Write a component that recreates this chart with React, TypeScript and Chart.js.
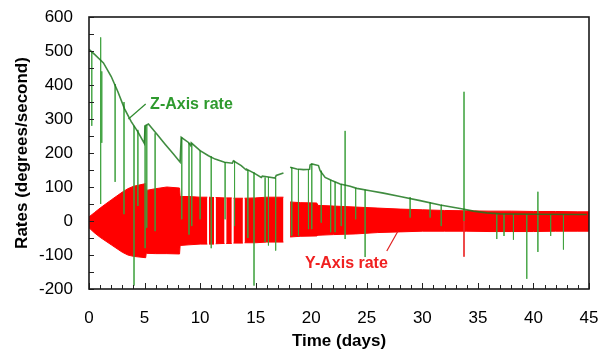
import React, { useEffect, useRef } from "react";
import { Chart, registerables } from "chart.js";

Chart.register(...registerables);

// ---------- Axis settings ----------
const xMin = 0;
const xMax = 45;
const xStep = 5;
const yMin = -200;
const yMax = 600;
const yStep = 100;
const xTitle = "Time (days)";
const yTitle = "Rates (degrees/second)";
const zLabel = "Z-Axis rate";
const yLabel = "Y-Axis rate";

// ---------- Z-Axis rate: main curve (day, deg/s); null = break ----------
const zDays = [
  0, 0.5, 1.3, 2.0, 2.6, 3.2, 3.8, 4.4, 4.98, 5.05, 5.35, 6.1, 6.85, 7.6, 8.2, 8.3,
  8.95, 9.15, 9.2, 10.0, 10.75, 11.35, 12.2, 12.9, 13.0, 13.7, 14.15, 14.2, 14.9,
  15.5, 15.6, 16.0, 16.75, 16.85, 17.5, 17.8, 18.1, 18.7, 19.3, 19.85, 19.9, 20.05,
  20.65, 20.8, 21.25, 21.85, 22.6, 23.5, 24.1, 25.3, 26.5, 28, 29.8, 31.6, 33.4,
  34.6, 35.8, 37, 40, 44.8,
];
const zRates: (number | null)[] = [
  505, 490, 465, 425, 380, 330, 292, 262, 228, 280, 285, 256, 226, 197, 173, 246,
  231, 222, 230, 207, 192, 182, 173, 170, 177, 163, 150, 152, 140,
  128, 132, 130, 126, 134, 141, null, 158, 153, 151, 152, 165, 168,
  163, 148, 128, 119, 109, 102, 96, 89, 82, 72, 60, 47, 37,
  29, 24, 21, 20, 19,
];

// ---------- Z-Axis rate: spikes (day, top, bottom) ----------
const zSpikeDays = [
  0.25, 1.05, 1.15, 2.35, 3.15, 4.05, 4.4, 5.05, 5.2, 5.95, 8.35, 9.0, 9.25, 10.0, 11.0, 12.25,
  13.1, 14.3, 14.85, 15.85, 16.15, 16.8, 18.25, 18.85, 19.75, 20.05, 20.9, 21.75,
  22.15, 22.7, 23.05, 24.0, 24.85, 28.9, 30.7, 31.7, 33.75, 36.7, 37.35, 38.2, 39.4,
  40.4, 41.55, 42.7,
];
const zSpikeTops = [
  500, 540, 440, 403, 350, 280, 268, 280, 282, 258, 246, 230, 228, 207, 190, 173,
  177, 150, 143, 128, 129, 126, 158, 153, 151, 168, 148, 120,
  115, 109, 265, 96, 92, 70, 55, 48, 380, 22, 22, 20, 20,
  86, 20, 20,
];
const zSpikeBottoms = [
  280, 50, 230, 115, 20, -190, 44, -80, -20, -30, 5, -40, -15, 5, -80, 5,
  -15, -50, -190, -62, -72, -87, -43, -43, -24, -24, -5, -33,
  -33, -15, -53, 5, -106, 10, 10, -15, 0, -53, -44, -55, -170,
  -91, -44, -84,
];

// ---------- Y-Axis rate: oscillation envelope (day, upper, lower); null = gap ----------
const yBandDays = [
  0, 0.5, 1, 2, 3, 3.5, 4, 5.1, 5.15, 6, 7, 8.15, 8.2, 9, 10, 10.65, 10.7, 10.8,
  11.25, 11.3, 11.4, 12.2, 12.25, 12.35, 12.85, 12.9, 13.0, 13.85, 13.9, 14.0, 15,
  16, 17.5, 17.8, 18.1, 19, 20.5, 20.6, 22, 24, 26, 28, 30, 32, 34, 36, 38, 40, 42,
  44, 45,
];
const yBandUpper: (number | null)[] = [
  12, 25, 38, 62, 85, 95, 102, 110, 90, 95, 100, 97, 72, 72, 70, 70, null, 70,
  69, null, 69, 68, null, 68, 68, null, 67, 67, null, 67, 68,
  70, 70, null, 56, 54, 53, 46, 44, 41, 38, 35, 33, 31, 30, 29, 29, 28, 28,
  27, 27,
];
const yBandLower: (number | null)[] = [
  -20, -35, -48, -70, -92, -100, -104, -108, -95, -96, -96, -97, -72, -70, -68, -68, null, -68,
  -68, null, -67, -66, null, -66, -66, null, -65, -65, null, -64, -64,
  -62, -62, null, -47, -45, -44, -42, -40, -38, -34, -32, -30, -30, -30, -31, -31, -31, -30,
  -30, -30,
];

// ---------- Y-Axis rate: spikes (day, top, bottom) ----------
const ySpikeDays = [33.75];
const ySpikeTops = [0];
const ySpikeBottoms = [-105];

const FONT = "Arial, 'Liberation Sans', Helvetica, sans-serif";

function toPoints(xs: number[], ys: (number | null)[]) {
  return xs.map((x, i) => ({ x, y: ys[i] }));
}

function spikePoints(xs: number[], tops: number[], bottoms: number[]) {
  const out: { x: number; y: number | null }[] = [];
  xs.forEach((x, i) => {
    out.push({ x, y: tops[i] }, { x, y: bottoms[i] }, { x, y: null });
  });
  return out;
}

const framePlugin = {
  id: "frameAndNotes",
  afterDatasetsDraw(chart: any) {
    const { ctx, chartArea: a, scales } = chart;
    const xs = scales.x;
    const ys = scales.y;
    ctx.save();
    // inward tick marks
    ctx.strokeStyle = "#222";
    ctx.lineWidth = 1;
    ctx.beginPath();
    for (let v = yMin; v <= yMax; v += yStep / 2) {
      const py = Math.round(ys.getPixelForValue(v)) + 0.5;
      ctx.moveTo(a.left, py);
      ctx.lineTo(a.left + 5, py);
    }
    for (let d = xMin; d <= xMax; d += 1) {
      const px = Math.round(xs.getPixelForValue(d)) + 0.5;
      ctx.moveTo(px, a.bottom);
      ctx.lineTo(px, a.bottom - (d % xStep === 0 ? 6 : 4));
    }
    ctx.stroke();
    // frame
    ctx.lineWidth = 1.6;
    ctx.strokeStyle = "#1a1a1a";
    ctx.strokeRect(a.left, a.top, a.right - a.left, a.bottom - a.top);

    // annotations
    ctx.font = `bold 16px ${FONT}`;
    ctx.textBaseline = "middle";
    ctx.textAlign = "left";
    ctx.fillStyle = "#2e9a2e";
    ctx.fillText(zLabel, xs.getPixelForValue(5.5), ys.getPixelForValue(341));
    ctx.strokeStyle = "#2e8a2e";
    ctx.lineWidth = 1.2;
    ctx.beginPath();
    ctx.moveTo(xs.getPixelForValue(5.1), ys.getPixelForValue(344));
    ctx.lineTo(xs.getPixelForValue(3.55), ys.getPixelForValue(300));
    ctx.stroke();

    ctx.fillStyle = "#f02020";
    ctx.fillText(yLabel, xs.getPixelForValue(19.45), ys.getPixelForValue(-126));
    ctx.strokeStyle = "#e02020";
    ctx.beginPath();
    ctx.moveTo(xs.getPixelForValue(27.8), ys.getPixelForValue(-30));
    ctx.lineTo(xs.getPixelForValue(26.8), ys.getPixelForValue(-88));
    ctx.stroke();
    ctx.restore();
  },
};

export default function App() {
  const ref = useRef<HTMLCanvasElement>(null);

  useEffect(() => {
    const canvas = ref.current;
    if (!canvas) return;
    Chart.defaults.font.family = FONT;
    const chart = new Chart(canvas, {
      type: "line",
      data: {
        datasets: [
          {
            label: "Z curve",
            data: toPoints(zDays, zRates),
            borderColor: "rgba(30,120,30,0.85)",
            borderWidth: 1.6,
            pointRadius: 0,
            fill: false,
            spanGaps: false,
            order: 0,
          },
          {
            label: "Z spikes",
            data: spikePoints(zSpikeDays, zSpikeTops, zSpikeBottoms),
            borderColor: "rgba(60,160,60,0.75)",
            borderWidth: 1,
            pointRadius: 0,
            fill: false,
            spanGaps: false,
            order: 1,
          },
          {
            label: "Y spikes",
            data: spikePoints(ySpikeDays, ySpikeTops, ySpikeBottoms),
            borderColor: "rgba(235,40,40,0.9)",
            borderWidth: 1,
            pointRadius: 0,
            fill: false,
            spanGaps: false,
            order: 2,
          },
          {
            label: "Y upper",
            data: toPoints(yBandDays, yBandUpper),
            borderColor: "#ff0000",
            borderWidth: 1,
            pointRadius: 0,
            fill: false,
            spanGaps: false,
            order: 3,
          },
          {
            label: "Y lower",
            data: toPoints(yBandDays, yBandLower),
            borderColor: "#ff0000",
            backgroundColor: "#ff0000",
            borderWidth: 1,
            pointRadius: 0,
            fill: "-1",
            spanGaps: false,
            order: 4,
          },
        ],
      },
      options: {
        animation: false,
        responsive: false,
        maintainAspectRatio: false,
        events: [],
        layout: { padding: { top: 17, right: 11, left: 0, bottom: 0 } },
        plugins: {
          legend: { display: false },
          tooltip: { enabled: false },
        },
        scales: {
          x: {
            type: "linear",
            min: xMin,
            max: xMax,
            border: { display: false },
            grid: { display: false, drawTicks: false },
            ticks: {
              stepSize: xStep,
              color: "#000",
              font: { size: 17 },
              padding: 19,
              maxRotation: 0,
            },
            title: {
              display: true,
              text: xTitle,
              color: "#000",
              font: { size: 17, weight: "bold" },
              padding: { top: 0, bottom: 5 },
            },
            afterFit: (s: any) => {
              s.height = 68;
              s.paddingLeft = 0;
              s.paddingRight = 0;
            },
          },
          y: {
            type: "linear",
            min: yMin,
            max: yMax,
            border: { display: false },
            grid: { display: false, drawTicks: false },
            ticks: {
              stepSize: yStep,
              color: "#000",
              font: { size: 17 },
              padding: 16,
            },
            title: {
              display: true,
              text: yTitle,
              color: "#000",
              font: { size: 17, weight: "bold" },
              padding: { top: 12, bottom: 0 },
            },
            afterFit: (s: any) => {
              s.width = 89;
              s.paddingTop = 0;
              s.paddingBottom = 0;
            },
          },
        },
      },
      plugins: [framePlugin],
    } as any);
    return () => chart.destroy();
  }, []);

  return (
    <canvas
      ref={ref}
      width={600}
      height={357}
      style={{ position: "absolute", left: 0, top: 0, width: 600, height: 357, display: "block", background: "#fff" }}
    />
  );
}
